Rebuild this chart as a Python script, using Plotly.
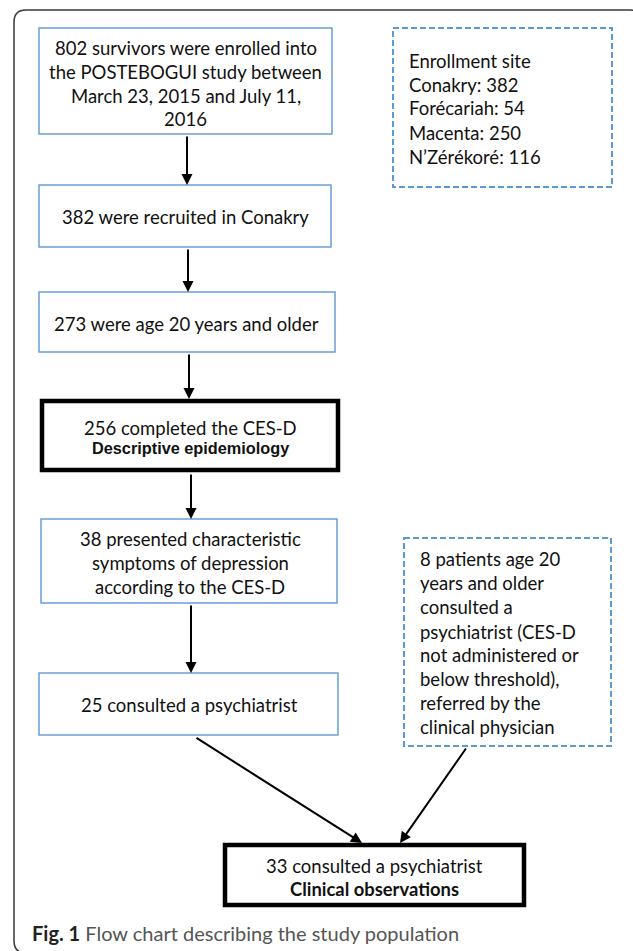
import plotly.graph_objects as go

W, H = 633, 951

# ---- content (counts / texts) ----
enrolled_total = 802
conakry = 382
age20 = 273
cesd_done = 256
depressed = 38
consulted = 25
referred = 8
clinical_total = 33
sites = ["Conakry", "Forécariah", "Macenta", "N’Zérékoré"]
site_counts = [382, 54, 250, 116]

box_texts = [
    [f"{enrolled_total} survivors were enrolled into", "the POSTEBOGUI study between",
     "March 23, 2015 and July 11,", "2016"],
    [f"{conakry} were recruited in Conakry"],
    [f"{age20} were age 20 years and older"],
    [f"{cesd_done} completed the CES-D", "<b>Descriptive epidemiology</b>"],
    [f"{depressed} presented characteristic", "symptoms of depression", "according to the CES-D"],
    [f"{consulted} consulted a psychiatrist"],
    [f"{clinical_total} consulted a psychiatrist", "<b>Clinical observations</b>"],
]
site_lines = ["Enrollment site"] + [f"{s}: {c}" for s, c in zip(sites, site_counts)]
referred_lines = [f"{referred} patients age 20", "years and older", "consulted a",
                  "psychiatrist (CES-D", "not administered or", "below threshold),",
                  "referred by the", "clinical physician"]
caption_bold = "Fig. 1"
caption_text = "Flow chart describing the study population"

# ---- layout geometry ----
box_rects = [(39, 28, 332, 134), (39, 185, 331, 247), (39, 292, 335, 352),
             (42, 401, 338, 470), (41, 519, 337, 603), (39, 673, 338, 735),
             (225, 845, 524, 905)]
box_thick = [False, False, False, True, False, False, True]
box_text_x = [185.5, 185, 186, 190, 190, 189, 374]
box_text_y = [[48, 72, 96, 119], [217], [324], [428, 448], [539, 563, 587], [705], [866, 889]]
box_text_font = [["Lato"] * 4, ["Lato"], ["Lato"], ["Lato", "Liberation Sans"],
                 ["Lato"] * 3, ["Lato"], ["Lato", "Lato"]]
box_text_size = [[18.5] * 4, [18.5], [18.5], [18.5, 16.3], [18.5] * 3, [18.5], [18.5, 18.4]]

dash_rects = [(393, 28, 612, 187), (404, 538, 611, 746)]
dash_text_x = [407, 418]
dash_text_y = [[61, 85, 108, 133, 157], [559, 583, 607, 632, 655, 679, 703, 727]]

arrows = [((187, 135), (187, 185)), ((188, 248), (188, 292)), ((189, 353), (189, 399)),
          ((191, 473), (191, 519)), ((191, 604), (191, 673)),
          ((195, 737), (362, 843)), ((467, 747), (400, 843))]

BLUE = "#6A9FD8"
DBLUE = "#5B9BD5"

fig = go.Figure()
shapes = []
annotations = []

# outer frame with rounded corners (extends past the right/bottom edges)
l, t, r, b, rad = 14, 10, 642, 953, 12
path = (f"M{l},{t+rad} Q{l},{t} {l+rad},{t} L{r-rad},{t} Q{r},{t} {r},{t+rad} "
        f"L{r},{b-rad} Q{r},{b} {r-rad},{b} L{l+rad},{b} Q{l},{b} {l},{b-rad} Z")
shapes.append(dict(type="path", path=path, xref="x", yref="y",
                   line=dict(color="#3a3a3a", width=1.5), fillcolor="rgba(0,0,0,0)"))

for (x0, y0, x1, y1), thick in zip(box_rects, box_thick):
    shapes.append(dict(type="rect", x0=x0, y0=y0, x1=x1, y1=y1, xref="x", yref="y",
                       line=dict(color="#000000" if thick else BLUE,
                                 width=4.5 if thick else 1.5),
                       fillcolor="white"))
for (x0, y0, x1, y1) in dash_rects:
    shapes.append(dict(type="rect", x0=x0, y0=y0, x1=x1, y1=y1, xref="x", yref="y",
                       line=dict(color=DBLUE, width=2, dash="6px,3px"),
                       fillcolor="white"))

for lines, cx, ys, fonts, sizes in zip(box_texts, box_text_x, box_text_y,
                                       box_text_font, box_text_size):
    for txt, yy, fnt, sz in zip(lines, ys, fonts, sizes):
        annotations.append(dict(x=cx, y=yy, xref="x", yref="y", text=txt,
                                showarrow=False, xanchor="center", yanchor="middle",
                                font=dict(family=fnt, size=sz, color="#111111")))

for lines, lx, ys in zip([site_lines, referred_lines], dash_text_x, dash_text_y):
    for txt, yy in zip(lines, ys):
        annotations.append(dict(x=lx, y=yy, xref="x", yref="y", text=txt,
                                showarrow=False, xanchor="left", yanchor="middle",
                                font=dict(family="Lato", size=18.5, color="#111111")))

for (sx, sy), (ex, ey) in arrows:
    annotations.append(dict(x=ex, y=ey, ax=sx, ay=sy, xref="x", yref="y",
                            axref="x", ayref="y", text="", showarrow=True,
                            arrowhead=2, arrowsize=1.1, arrowwidth=2,
                            arrowcolor="#000000", standoff=0, startstandoff=0))

annotations.append(dict(x=30, y=933, xref="x", yref="y",
                        text=f"<b><span style='color:#222222'>{caption_bold}</span></b> {caption_text}",
                        showarrow=False, xanchor="left", yanchor="middle",
                        font=dict(family="Lato", size=20, color="#555555")))

fig.update_layout(
    width=W, height=H, margin=dict(l=0, r=0, t=0, b=0),
    paper_bgcolor="white", plot_bgcolor="white",
    xaxis=dict(range=[0, W], visible=False, fixedrange=True),
    yaxis=dict(range=[H, 0], visible=False, fixedrange=True),
    shapes=shapes, annotations=annotations, showlegend=False,
)
fig.write_html("out.html", config={"displayModeBar": False},
               post_script="document.body.style.margin='0px';document.body.style.overflow='hidden';")
